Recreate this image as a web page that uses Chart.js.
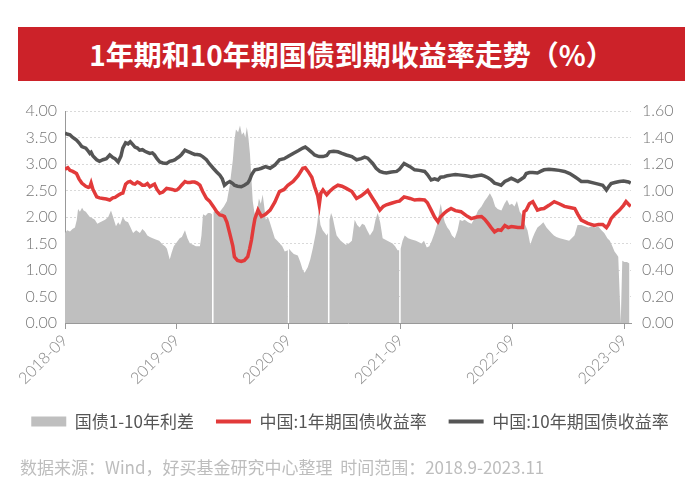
<!DOCTYPE html>
<html><head><meta charset="utf-8">
<script src="https://cdn.jsdelivr.net/npm/chart.js@4/dist/chart.umd.min.js"></script>
<style>
html,body{margin:0;padding:0;background:#fff;}
#wrap{position:relative;width:700px;height:493px;overflow:hidden;}
#title{position:absolute;left:18px;top:27px;width:667px;height:54px;background:#cc2229;color:#fff;font:bold 28px "Noto Sans CJK SC";text-align:center;line-height:54px;}
#foot{position:absolute;left:20px;top:454px;font:17px "Noto Sans CJK SC";color:#bdbdbd;white-space:pre;}
canvas{position:absolute;left:0;top:0;}
</style></head><body>
<div id="wrap">
<canvas id="c" width="700" height="493"></canvas>
<div id="title">1年期和10年期国债到期收益率走势（%）</div>
<div id="foot">数据来源：Wind，好买基金研究中心整理  时间范围：2018.9-2023.11</div>
</div>
<script>
const seriesNames = ['国债1-10年利差', '中国:1年期国债收益率', '中国:10年期国债收益率'];
const xTickLabels = ['2018-09','2019-09','2020-09','2021-09','2022-09','2023-09'];
const xEndDate = '2023-09-22';

const lineDates = ['2018-09-01','2018-09-10','2018-09-17','2018-09-26','2018-10-08','2018-10-16','2018-10-25','2018-11-08','2018-11-16','2018-11-21','2018-11-25','2018-12-01','2018-12-13','2018-12-22','2019-01-03','2019-01-14','2019-01-25','2019-02-05','2019-02-12','2019-02-22','2019-03-01','2019-03-07','2019-03-16','2019-03-24','2019-04-01','2019-04-10','2019-04-16','2019-04-24','2019-05-01','2019-05-10','2019-05-18','2019-05-26','2019-06-04','2019-06-12','2019-06-19','2019-06-27','2019-07-06','2019-07-16','2019-07-28','2019-08-08','2019-08-16','2019-08-25','2019-09-01','2019-09-09','2019-09-16','2019-09-27','2019-10-05','2019-10-13','2019-10-20','2019-10-28','2019-11-06','2019-11-15','2019-11-24','2019-12-06','2019-12-16','2019-12-28','2020-01-09','2020-01-19','2020-01-27','2020-02-04','2020-02-12','2020-02-21','2020-03-01','2020-03-06','2020-03-16','2020-03-28','2020-04-08','2020-04-19','2020-04-25','2020-05-01','2020-05-07','2020-05-12','2020-05-22','2020-06-03','2020-06-16','2020-07-01','2020-07-16','2020-08-01','2020-08-16','2020-08-28','2020-09-15','2020-10-01','2020-10-16','2020-10-24','2020-11-03','2020-11-15','2020-11-24','2020-12-04','2020-12-09','2020-12-14','2020-12-21','2021-01-03','2021-01-12','2021-01-25','2021-02-09','2021-02-22','2021-03-06','2021-03-24','2021-04-09','2021-04-24','2021-05-05','2021-05-15','2021-06-01','2021-06-12','2021-06-24','2021-07-05','2021-07-15','2021-08-01','2021-08-18','2021-08-27','2021-09-12','2021-10-01','2021-10-16','2021-11-01','2021-11-18','2021-11-27','2021-12-09','2021-12-20','2022-01-01','2022-01-09','2022-01-21','2022-02-01','2022-02-13','2022-02-27','2022-03-15','2022-04-01','2022-04-18','2022-05-06','2022-05-21','2022-06-01','2022-06-12','2022-06-22','2022-07-03','2022-07-14','2022-07-24','2022-08-06','2022-08-17','2022-08-27','2022-09-08','2022-09-18','2022-10-03','2022-10-08','2022-10-15','2022-10-25','2022-11-06','2022-11-21','2022-12-01','2022-12-12','2022-12-28','2023-01-15','2023-02-01','2023-02-18','2023-03-05','2023-03-21','2023-04-01','2023-04-12','2023-05-03','2023-05-24','2023-06-07','2023-06-21','2023-07-03','2023-07-10','2023-07-18','2023-07-30','2023-08-15','2023-08-28','2023-09-06','2023-09-14','2023-09-21'];

const yield10y = [3.58,3.56,3.55,3.50,3.45,3.40,3.33,3.30,3.24,3.20,3.22,3.15,3.08,3.05,3.08,3.10,3.17,3.12,3.10,3.04,3.15,3.30,3.40,3.38,3.42,3.36,3.32,3.30,3.26,3.27,3.24,3.22,3.20,3.21,3.17,3.10,3.04,3.02,3.01,3.05,3.06,3.08,3.11,3.14,3.18,3.26,3.24,3.22,3.20,3.18,3.18,3.17,3.14,3.08,3.00,2.92,2.85,2.79,2.72,2.60,2.64,2.67,2.63,2.60,2.58,2.57,2.60,2.64,2.70,2.79,2.85,2.89,2.90,2.92,2.95,2.92,2.98,3.08,3.10,3.14,3.20,3.25,3.30,3.32,3.28,3.22,3.17,3.15,3.14,3.14,3.14,3.16,3.23,3.24,3.23,3.20,3.17,3.14,3.08,3.10,3.13,3.11,3.01,2.92,2.86,2.84,2.83,2.85,2.86,2.90,3.01,2.95,2.89,2.88,2.86,2.80,2.70,2.72,2.70,2.75,2.76,2.78,2.79,2.80,2.79,2.78,2.76,2.78,2.79,2.77,2.74,2.70,2.64,2.62,2.60,2.67,2.70,2.73,2.70,2.67,2.73,2.75,2.82,2.84,2.84,2.83,2.86,2.89,2.90,2.89,2.88,2.86,2.82,2.76,2.72,2.67,2.67,2.64,2.62,2.60,2.51,2.57,2.63,2.65,2.67,2.68,2.67,2.66,2.64];

const yield1y = [2.90,2.93,2.88,2.86,2.82,2.72,2.64,2.58,2.56,2.57,2.64,2.52,2.38,2.36,2.35,2.34,2.32,2.36,2.37,2.41,2.44,2.45,2.62,2.66,2.67,2.63,2.62,2.66,2.64,2.60,2.60,2.63,2.57,2.60,2.62,2.52,2.45,2.47,2.54,2.53,2.52,2.50,2.51,2.55,2.60,2.67,2.65,2.65,2.66,2.66,2.64,2.60,2.48,2.35,2.30,2.20,2.10,2.04,2.03,2.01,1.90,1.69,1.45,1.25,1.18,1.16,1.18,1.25,1.40,1.57,1.80,1.97,2.13,2.01,2.05,2.13,2.28,2.48,2.52,2.60,2.67,2.78,2.92,2.93,2.86,2.75,2.57,2.40,2.23,2.45,2.51,2.42,2.48,2.55,2.60,2.58,2.54,2.48,2.35,2.40,2.45,2.50,2.35,2.25,2.13,2.20,2.23,2.26,2.29,2.30,2.38,2.35,2.32,2.33,2.32,2.27,2.13,2.00,1.91,2.00,2.07,2.12,2.16,2.12,2.10,2.03,1.97,2.00,2.01,1.96,1.88,1.80,1.72,1.76,1.75,1.84,1.80,1.82,1.81,1.80,1.80,2.10,2.13,2.25,2.29,2.13,2.15,2.16,2.22,2.29,2.25,2.20,2.18,2.16,2.05,1.94,1.88,1.84,1.86,1.86,1.80,1.86,1.97,2.05,2.13,2.22,2.29,2.24,2.20];

const spreadDates = ['2018-09-01','2018-09-08','2018-09-17','2018-09-25','2018-10-03','2018-10-09','2018-10-13','2018-10-19','2018-10-26','2018-11-01','2018-11-08','2018-11-14','2018-11-21','2018-11-29','2018-12-07','2018-12-15','2018-12-24','2019-01-02','2019-01-10','2019-01-20','2019-01-29','2019-02-07','2019-02-15','2019-02-22','2019-02-28','2019-03-07','2019-03-15','2019-03-24','2019-04-02','2019-04-10','2019-04-20','2019-05-02','2019-05-10','2019-05-18','2019-05-26','2019-06-04','2019-06-13','2019-06-23','2019-07-04','2019-07-16','2019-07-23','2019-07-29','2019-08-08','2019-08-14','2019-08-21','2019-09-04','2019-09-10','2019-09-17','2019-09-27','2019-10-05','2019-10-13','2019-10-23','2019-11-02','2019-11-15','2019-11-20','2019-11-25','2019-12-03','2019-12-11','2019-12-18','2019-12-24','2019-12-24','2019-12-29','2019-12-29','2020-01-09','2020-01-19','2020-02-02','2020-02-12','2020-02-21','2020-03-01','2020-03-06','2020-03-11','2020-03-18','2020-03-24','2020-03-30','2020-04-06','2020-04-11','2020-04-16','2020-04-21','2020-04-26','2020-05-05','2020-05-10','2020-05-15','2020-05-25','2020-06-01','2020-06-07','2020-06-12','2020-06-17','2020-06-24','2020-06-30','2020-07-08','2020-07-16','2020-07-24','2020-08-02','2020-08-10','2020-08-18','2020-08-28','2020-08-28','2020-09-02','2020-09-02','2020-09-09','2020-09-17','2020-09-30','2020-10-08','2020-10-16','2020-10-22','2020-11-02','2020-11-10','2020-11-18','2020-11-28','2020-12-03','2020-12-07','2020-12-13','2020-12-20','2021-01-03','2021-01-07','2021-01-07','2021-01-12','2021-01-12','2021-01-17','2021-01-22','2021-01-29','2021-02-05','2021-02-18','2021-03-04','2021-03-14','2021-03-24','2021-04-03','2021-04-11','2021-04-19','2021-04-27','2021-05-05','2021-05-13','2021-05-22','2021-06-03','2021-06-10','2021-06-17','2021-06-25','2021-07-03','2021-07-18','2021-08-05','2021-08-13','2021-08-21','2021-08-26','2021-08-26','2021-08-31','2021-08-31','2021-09-07','2021-09-14','2021-09-25','2021-10-06','2021-10-20','2021-11-08','2021-11-16','2021-11-25','2021-12-03','2021-12-11','2021-12-20','2021-12-30','2022-01-05','2022-01-10','2022-01-16','2022-01-23','2022-02-01','2022-02-08','2022-02-16','2022-02-25','2022-03-04','2022-03-11','2022-03-19','2022-03-27','2022-04-08','2022-04-19','2022-05-01','2022-05-10','2022-05-21','2022-06-01','2022-06-10','2022-06-18','2022-06-27','2022-07-05','2022-07-13','2022-07-25','2022-08-05','2022-08-13','2022-08-21','2022-08-29','2022-09-07','2022-09-15','2022-09-24','2022-09-30','2022-10-08','2022-10-19','2022-10-28','2022-11-05','2022-11-12','2022-11-21','2022-12-01','2022-12-10','2022-12-20','2022-12-28','2023-01-06','2023-01-14','2023-01-22','2023-02-03','2023-02-18','2023-03-03','2023-03-20','2023-03-30','2023-04-12','2023-04-24','2023-05-05','2023-05-15','2023-05-26','2023-06-06','2023-06-17','2023-06-26','2023-07-06','2023-07-14','2023-07-22','2023-07-29','2023-08-05','2023-08-11','2023-08-19','2023-08-19','2023-08-24','2023-08-24','2023-09-01','2023-09-09','2023-09-17','2023-09-22'];

const spread = [0.68,0.70,0.69,0.71,0.72,0.78,0.86,0.84,0.87,0.85,0.84,0.82,0.80,0.79,0.78,0.75,0.76,0.77,0.78,0.80,0.85,0.79,0.73,0.76,0.74,0.80,0.77,0.76,0.72,0.68,0.70,0.68,0.71,0.69,0.66,0.65,0.64,0.63,0.62,0.59,0.58,0.56,0.48,0.53,0.58,0.62,0.64,0.65,0.70,0.64,0.60,0.59,0.58,0.58,0.66,0.82,0.81,0.83,0.83,0.82,0,0,0.84,0.85,0.84,0.88,0.92,1.04,1.23,1.38,1.46,1.44,1.49,1.42,1.44,1.40,1.48,1.40,1.28,0.92,0.84,0.80,0.94,0.90,0.97,0.88,0.78,0.80,0.76,0.70,0.64,0.62,0.60,0.58,0.54,0.55,0,0,0.56,0.54,0.52,0.51,0.46,0.40,0.38,0.42,0.48,0.56,0.68,0.76,0.85,0.74,0.70,0.66,0.68,0,0,0.78,0.83,0.80,0.72,0.66,0.62,0.59,0.60,0.62,0.78,0.74,0.72,0.75,0.74,0.70,0.66,0.70,0.78,0.83,0.76,0.64,0.62,0.60,0.58,0.55,0.55,0,0,0.56,0.62,0.66,0.64,0.63,0.62,0.60,0.62,0.57,0.58,0.62,0.68,0.76,0.84,0.90,0.82,0.76,0.72,0.70,0.66,0.64,0.70,0.78,0.77,0.78,0.76,0.75,0.80,0.85,0.88,0.92,0.95,0.98,0.94,0.88,0.86,0.85,0.90,0.93,0.89,0.90,0.88,0.92,0.84,0.82,0.76,0.70,0.59,0.64,0.68,0.72,0.74,0.76,0.72,0.70,0.68,0.66,0.65,0.64,0.63,0.62,0.66,0.74,0.74,0.73,0.72,0.73,0.72,0.73,0.70,0.68,0.64,0.62,0.58,0.54,0.52,0.50,0,0,0.48,0.47,0.46,0.46,0.45];

function monthIndex(s) {
  const p = s.split('-').map(Number);
  return (p[0] - 2018) * 12 + (p[1] - 9) + (p[2] - 1) / 30;
}
const toXY = (dates, vals) => dates.map((d, i) => ({ x: monthIndex(d), y: vals[i] }));

const tickFont = { family: 'Lato', size: 16, weight: '300' };

new Chart(document.getElementById('c'), {
  type: 'line',
  data: {
    datasets: [
      { label: seriesNames[0], data: toXY(spreadDates, spread), yAxisID: 'y1',
        backgroundColor: '#bfbfbf', borderColor: '#bfbfbf', borderWidth: 0,
        fill: 'origin', pointRadius: 0, tension: 0, order: 3 },
      { label: seriesNames[1], data: toXY(lineDates, yield1y), yAxisID: 'y',
        borderColor: '#e23a3a', backgroundColor: '#e23a3a', borderWidth: 3.5,
        fill: false, pointRadius: 0, tension: 0, order: 1 },
      { label: seriesNames[2], data: toXY(lineDates, yield10y), yAxisID: 'y',
        borderColor: '#555555', backgroundColor: '#555555', borderWidth: 3.5,
        fill: false, pointRadius: 0, tension: 0, order: 2 }
    ]
  },
  options: {
    responsive: false,
    animation: false,
    layout: { padding: { top: 111, bottom: 53, left: 0, right: 0 } },
    plugins: {
      tooltip: { enabled: false },
      legend: {
        position: 'bottom',
        labels: {
          usePointStyle: true,
          pointStyleWidth: 35,
          boxHeight: 10,
          padding: 22,
          color: '#555',
          font: { family: 'Noto Sans CJK SC', size: 17 },
          generateLabels: (chart) => chart.data.datasets.map((ds, i) => ({
            text: ds.label,
            fillStyle: ds.backgroundColor,
            strokeStyle: ds.borderColor,
            lineWidth: i === 0 ? 0 : 4,
            pointStyle: i === 0 ? 'rect' : 'line',
            hidden: false,
            datasetIndex: i,
            fontColor: '#555'
          }))
        }
      }
    },
    scales: {
      x: {
        type: 'linear',
        min: 0,
        max: monthIndex(xEndDate),
        afterBuildTicks: (s) => { s.ticks = xTickLabels.map(l => ({ value: monthIndex(l + '-01') })); },
        afterFit: (s) => { s.height = 68; },
        ticks: {
          autoSkip: false, maxRotation: 45, minRotation: 45, padding: 2,
          color: '#888', font: tickFont,
          callback: (v, i) => xTickLabels[i]
        },
        grid: { display: true, drawOnChartArea: false, drawTicks: true, tickLength: 6, color: '#999' },
        border: { display: true, color: '#999', width: 1 }
      },
      y: {
        position: 'left',
        min: 0, max: 4,
        afterFit: (s) => { s.width = 65; },
        ticks: { stepSize: 0.5, padding: 8, color: '#777', font: tickFont, callback: v => v.toFixed(2) },
        grid: { color: '#d9d9d9', drawTicks: false },
        border: { display: true, color: '#999', width: 1, dash: [2, 2] }
      },
      y1: {
        position: 'right',
        min: 0, max: 1.6,
        afterFit: (s) => { s.width = 69; },
        ticks: { stepSize: 0.2, padding: 11, color: '#777', font: tickFont, callback: v => v.toFixed(2) },
        grid: { drawOnChartArea: false, drawTicks: false },
        border: { display: false }
      }
    }
  }
});
</script>
</body></html>
